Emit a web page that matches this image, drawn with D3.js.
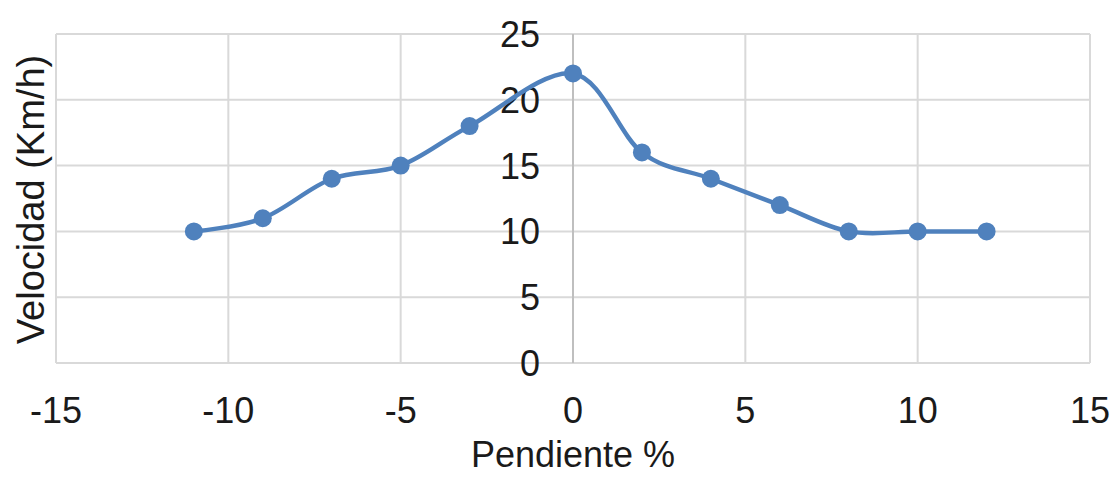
<!DOCTYPE html>
<html>
<head>
<meta charset="utf-8">
<script src="https://cdn.jsdelivr.net/npm/d3@7"></script>
<style>
  html, body { margin: 0; padding: 0; background: #fff; }
  svg { display: block; font-family: "Liberation Sans", Arial, sans-serif; }
</style>
</head>
<body>
<svg id="chart" width="1117" height="479"></svg>
<script>
// Velocidad según pendiente del terreno
const pendiente = [-11, -9, -7, -5, -3, 0, 2, 4, 6, 8, 10, 12];
const velocidad = [10, 11, 14, 15, 18, 22, 16, 14, 12, 10, 10, 10];
const xTicks = [-15, -10, -5, 0, 5, 10, 15];
const yTicks = [0, 5, 10, 15, 20, 25];
const xTitle = "Pendiente %";
const yTitle = "Velocidad (Km/h)";

const svg = d3.select("#chart");
const plot = { left: 56, right: 1090, top: 34, bottom: 363 };

const x = d3.scaleLinear().domain([-15, 15]).range([plot.left, plot.right]);
const y = d3.scaleLinear().domain([0, 25]).range([plot.bottom, plot.top]);

const gridColor = "#d9d9d9";
const fontSize = 36;

// Horizontal gridlines
svg.append("g")
  .selectAll("line")
  .data(yTicks)
  .join("line")
  .attr("x1", plot.left).attr("x2", plot.right)
  .attr("y1", d => y(d)).attr("y2", d => y(d))
  .attr("stroke", gridColor).attr("stroke-width", 2);

// Vertical gridlines
svg.append("g")
  .selectAll("line")
  .data(xTicks.filter(d => d !== 0))
  .join("line")
  .attr("x1", d => x(d)).attr("x2", d => x(d))
  .attr("y1", plot.top).attr("y2", plot.bottom)
  .attr("stroke", gridColor).attr("stroke-width", 2);

// Vertical axis through x = 0
svg.append("line")
  .attr("x1", x(0)).attr("x2", x(0))
  .attr("y1", plot.top).attr("y2", plot.bottom)
  .attr("stroke", "#bfbfbf").attr("stroke-width", 2);

// Y tick labels, set beside the axis at x = 0
svg.append("g")
  .selectAll("text")
  .data(yTicks)
  .join("text")
  .attr("x", x(0) - 33)
  .attr("y", d => y(d))
  .attr("dy", "0.36em")
  .attr("text-anchor", "end")
  .attr("font-size", fontSize)
  .attr("fill", "#1a1a1a")
  .text(d => d);

// X tick labels
svg.append("g")
  .selectAll("text")
  .data(xTicks)
  .join("text")
  .attr("x", d => x(d))
  .attr("y", 423)
  .attr("text-anchor", "middle")
  .attr("font-size", fontSize)
  .attr("fill", "#1a1a1a")
  .text(d => d);

// Axis titles
svg.append("text")
  .attr("x", x(0))
  .attr("y", 467)
  .attr("text-anchor", "middle")
  .attr("font-size", 36)
  .attr("fill", "#1a1a1a")
  .text(xTitle);

svg.append("text")
  .attr("transform", `translate(44, ${(52 + 347) / 2}) rotate(-90)`)
  .attr("text-anchor", "middle")
  .attr("font-size", 38)
  .attr("fill", "#1a1a1a")
  .text(yTitle);

// Smoothed series line with markers
const data = pendiente.map((p, i) => ({ p, v: velocidad[i] }));
const blue = "#4f81bd";

svg.append("path")
  .datum(data)
  .attr("fill", "none")
  .attr("stroke", blue)
  .attr("stroke-width", 4.5)
  .attr("stroke-linejoin", "round")
  .attr("stroke-linecap", "round")
  .attr("d", d3.line().x(d => x(d.p)).y(d => y(d.v)).curve(d3.curveCardinal.tension(0)));

svg.append("g")
  .selectAll("circle")
  .data(data)
  .join("circle")
  .attr("cx", d => x(d.p))
  .attr("cy", d => y(d.v))
  .attr("r", 9)
  .attr("fill", blue);
</script>
</body>
</html>
